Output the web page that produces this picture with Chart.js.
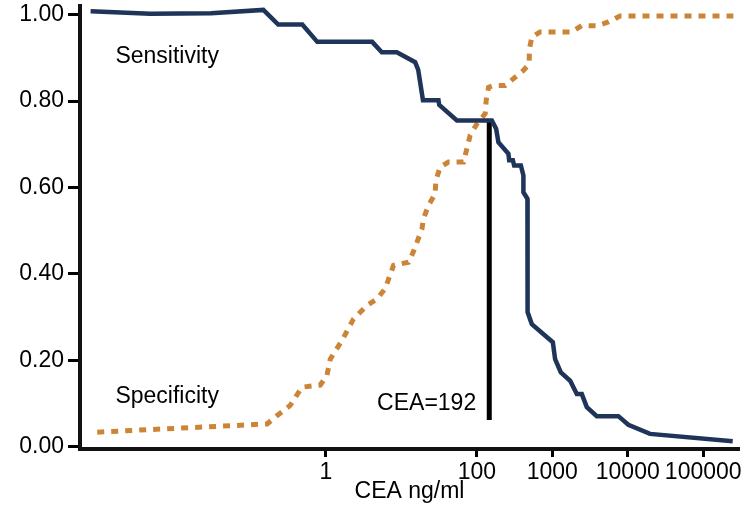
<!DOCTYPE html>
<html>
<head>
<meta charset="utf-8">
<script src="https://cdn.jsdelivr.net/npm/chart.js@4.4.0/dist/chart.umd.min.js"></script>
<style>
  body { margin: 0; background: #fff; }
</style>
</head>
<body>
<canvas id="chart" width="749" height="505"></canvas>
<script>
// CEA cut-off values (ng/ml) and the two curves
const sensX = [0.00076, 0.0047, 0.03, 0.148, 0.233, 0.486, 0.767, 4.1, 5.5, 8.7, 15.2, 16.7, 19.3, 31, 31.7, 54.4, 158, 180, 193, 262, 268, 300, 312, 383, 414, 414, 468, 470, 535, 1016, 1089, 1297, 1723, 2113, 2461, 2866, 3884, 7500, 10180, 19730, 246000];
const sensY = [1.008, 1.002, 1.003, 1.011, 0.977, 0.977, 0.937, 0.937, 0.913, 0.913, 0.890, 0.872, 0.802, 0.802, 0.791, 0.755, 0.755, 0.736, 0.705, 0.678, 0.663, 0.663, 0.651, 0.651, 0.628, 0.589, 0.574, 0.312, 0.284, 0.242, 0.203, 0.172, 0.153, 0.122, 0.122, 0.092, 0.071, 0.071, 0.051, 0.030, 0.013];

const specX = [0.00093, 0.166, 0.224, 0.336, 0.481, 0.841, 1.03, 1.14, 1.63, 2.32, 3.49, 4.74, 6.1, 7.86, 12.4, 14.3, 18.7, 19.6, 22.9, 28, 28.6, 32.6, 42, 66.5, 73.8, 81.5, 100, 129, 133, 143, 166, 237, 306, 414, 493, 498, 535, 689, 1812, 2460, 3885, 5530, 7910, 250600];
const specY = [0.034, 0.053, 0.072, 0.096, 0.138, 0.143, 0.165, 0.203, 0.246, 0.296, 0.327, 0.342, 0.366, 0.420, 0.427, 0.450, 0.504, 0.528, 0.559, 0.585, 0.616, 0.647, 0.659, 0.659, 0.690, 0.721, 0.747, 0.771, 0.802, 0.832, 0.836, 0.836, 0.852, 0.871, 0.886, 0.921, 0.948, 0.960, 0.960, 0.975, 0.974, 0.983, 0.997, 0.997];

// cut-off marker
const cutX = [146, 146];
const cutY = [0.062, 0.756];

const xTicks = [1, 100, 1000, 10000, 100000];
const yTicks = [0, 0.2, 0.4, 0.6, 0.8, 1.0];

// text labels: [text, x, y, align]
const notes = [
  ['Sensitivity', 0.00162, 0.902, 'left'],
  ['Specificity', 0.00162, 0.116, 'left'],
  ['CEA=192', 98, 0.101, 'right']
];

const FONT = '"Liberation Sans", Arial, sans-serif';
const NAVY = '#1f3459';
const ORANGE = '#cc8536';

const toPoints = (xs, ys) => xs.map((x, i) => ({ x: x, y: ys[i] }));

const notesPlugin = {
  id: 'notes',
  afterDatasetsDraw(chart) {
    const ctx = chart.ctx;
    const xs = chart.scales.x;
    const ys = chart.scales.y;
    ctx.save();
    ctx.font = '23px ' + FONT;
    ctx.fillStyle = '#000';
    ctx.textBaseline = 'middle';
    notes.forEach(n => {
      ctx.textAlign = n[3];
      ctx.fillText(n[0], xs.getPixelForValue(n[1]), ys.getPixelForValue(n[2]));
    });
    ctx.restore();
  }
};

const config = {
  type: 'line',
  data: {
    datasets: [
      {
        label: 'Sensitivity',
        data: toPoints(sensX, sensY),
        borderColor: NAVY,
        borderWidth: 4.5,
        pointRadius: 0,
        tension: 0
      },
      {
        label: 'Specificity',
        data: toPoints(specX, specY),
        borderColor: ORANGE,
        borderWidth: 5,
        borderDash: [7, 7],
        borderCapStyle: 'butt',
        pointRadius: 0,
        tension: 0
      },
      {
        label: 'CEA=192',
        data: toPoints(cutX, cutY),
        borderColor: '#000',
        borderWidth: 5,
        pointRadius: 0
      }
    ]
  },
  options: {
    responsive: false,
    animation: false,
    layout: { padding: { left: 0, right: 10, top: 6, bottom: 0 } },
    plugins: {
      legend: { display: false },
      tooltip: { enabled: false }
    },
    scales: {
      x: {
        type: 'logarithmic',
        min: 0.00055,
        max: 298000,
        afterBuildTicks: s => { s.ticks = xTicks.map(v => ({ value: v })); },
        afterFit: s => { s.height = 56; s.paddingLeft = 0; s.paddingRight = 0; },
        ticks: {
          color: '#000',
          font: { family: FONT, size: 23 },
          padding: 2,
          maxRotation: 0,
          autoSkip: false,
          callback: v => String(v)
        },
        grid: { drawOnChartArea: false, drawTicks: true, tickLength: 8, tickWidth: 3, tickColor: '#000', color: '#000' },
        border: { display: true, color: '#111', width: 4 },
        title: {
          display: true,
          text: 'CEA ng/ml',
          color: '#000',
          font: { family: FONT, size: 23 },
          padding: { top: 0, bottom: 0 }
        }
      },
      y: {
        type: 'linear',
        min: -0.005,
        max: 1.02,
        afterBuildTicks: s => { s.ticks = yTicks.map(v => ({ value: v })); },
        afterFit: s => { s.width = 80; s.paddingTop = 0; s.paddingBottom = 0; },
        ticks: {
          color: '#000',
          font: { family: FONT, size: 23 },
          padding: 4,
          callback: v => v.toFixed(2)
        },
        grid: { drawOnChartArea: false, drawTicks: true, tickLength: 12, tickWidth: 3, tickColor: '#000', color: '#000' },
        border: { display: true, color: '#111', width: 4 }
      }
    }
  },
  plugins: [notesPlugin]
};

const myChart = new Chart(document.getElementById('chart'), config);
</script>
</body>
</html>
